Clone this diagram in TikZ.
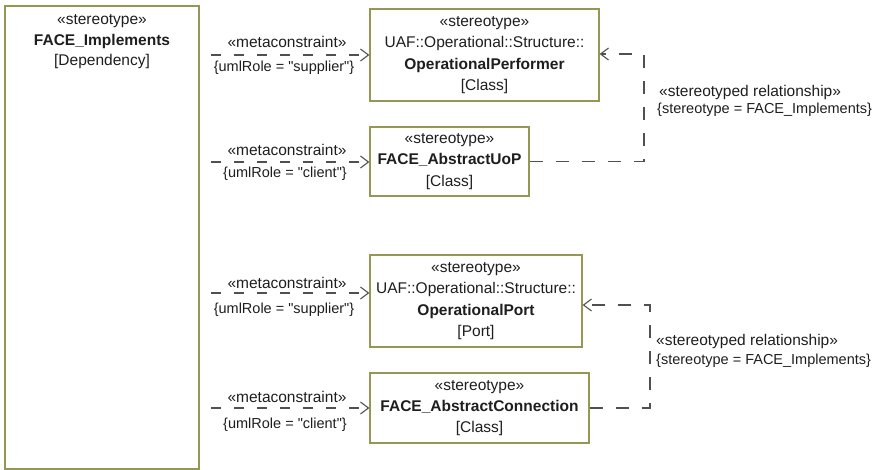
\documentclass[tikz,border=0pt]{standalone}
\usepackage{fontspec}
\setmainfont[Ligatures=TeXOff]{Liberation Sans}
\usetikzlibrary{arrows.meta}
\definecolor{boxline}{RGB}{150,150,85}
\definecolor{txt}{RGB}{30,30,30}
\definecolor{conn}{RGB}{80,80,80}
\tikzset{
  umlbox/.style={draw=boxline, line width=1.2pt, fill=white, rectangle, inner sep=0pt, align=center,
    text=txt, font=\fontsize{15.5}{21.3}\selectfont},
  plain/.style={inner sep=0pt, text=txt, font=\fontsize{15.5}{18}\selectfont},
  small/.style={inner sep=0pt, text=txt, font=\fontsize{14.5}{17}\selectfont},
  dep/.style={draw=conn, line width=1.1pt, dash pattern=on 10pt off 13pt, -{Straight Barb[length=8pt,width=12pt,line width=1.1pt]}},
  rel/.style={draw=conn, line width=1.1pt, dash pattern=on 13pt off 13pt, -{Straight Barb[length=8pt,width=12pt,line width=1.1pt]}},
}
\begin{document}
\begin{tikzpicture}[x=1pt,y=-1pt]
\useasboundingbox (0,0) rectangle (875,470);
% big box
\node[umlbox, minimum width=194pt, minimum height=463pt] (impl) at (102,237.5) {};
\node[plain, align=center, font=\fontsize{15.5}{20.5}\selectfont] (impltxt) at (102,42)
  {«stereotype»\\ \textbf{FACE\_Implements}\\ {[Dependency]}};
% target boxes
\node[umlbox, minimum width=229pt, minimum height=92pt] (op) at (484.5,55)
  {«stereotype»\\ UAF::Operational::Structure::\\ \textbf{OperationalPerformer}\\ {[Class]}};
\node[umlbox, minimum width=159pt, minimum height=69pt] (uop) at (449.5,161.5)
  {«stereotype»\\ \textbf{FACE\_AbstractUoP}\\ {[Class]}};
\node[umlbox, minimum width=212pt, minimum height=92pt] (port) at (476,301)
  {«stereotype»\\ UAF::Operational::Structure::\\ \textbf{OperationalPort}\\ {[Port]}};
\node[umlbox, minimum width=219pt, minimum height=70pt] (conn) at (479.5,408)
  {«stereotype»\\ \textbf{FACE\_AbstractConnection}\\ {[Class]}};
% left dependency arrows
\coordinate (s1) at (211,55);
\coordinate (s2) at (211,162);
\coordinate (s3) at (211,293);
\coordinate (s4) at (211,408);
\draw[dep] (s1) -- (s1 -| op.west);
\draw[dep] (s2) -- (s2 -| uop.west);
\draw[dep] (s3) -- (s3 -| port.west);
\draw[dep] (s4) -- (s4 -| conn.west);
\node[plain] (m1) at (287,42) {«metaconstraint»};
\node[small] (r1) at (284,68) {\{umlRole = "supplier"\}};
\node[plain] (m2) at (287,150) {«metaconstraint»};
\node[small] (r2) at (285,174) {\{umlRole = "client"\}};
\node[plain] (m3) at (287,283) {«metaconstraint»};
\node[small] (r3) at (284,310) {\{umlRole = "supplier"\}};
\node[plain] (m4) at (287,397) {«metaconstraint»};
\node[small] (r4) at (285,425) {\{umlRole = "client"\}};
% stereotyped relationships
\coordinate (c1) at (644,54);
\draw[rel] (uop.east) -| (c1) -- (c1 -| op.east);
\coordinate (c2) at (650,305);
\draw[rel] (conn.east) -| (c2) -- (c2 -| port.east);
\node[plain, anchor=west] (st1) at (659,92) {«stereotyped relationship»};
\node[small, anchor=west] (sv1) at (657,110) {\{stereotype = FACE\_Implements\}};
\node[plain, anchor=west] (st2) at (656,341) {«stereotyped relationship»};
\node[small, anchor=west] (sv2) at (656,361) {\{stereotype = FACE\_Implements\}};
\end{tikzpicture}
\end{document}
